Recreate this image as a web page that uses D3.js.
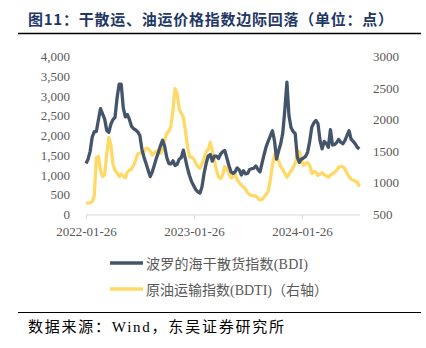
<!DOCTYPE html>
<html><head><meta charset="utf-8">
<script src="https://cdn.jsdelivr.net/npm/d3@7"></script>
<style>
body{margin:0;background:#fff;}
svg{display:block;}
</style></head>
<body><svg id="c" width="426" height="348"></svg>
<script>
// Weekly observations starting 2022-01-26
const startDate = "2022-01-26";
const bdi = [1290,1400,1600,1960,2100,2100,2400,2680,2550,2420,2130,2080,2280,2400,2460,2950,3300,3300,2700,2470,
2530,2400,2230,2170,2140,2090,2000,1650,1450,1290,1120,960,1080,1250,1430,1580,1750,1880,1720,1440,
1290,1280,1360,1240,1270,1400,1440,1630,1400,1170,980,830,730,630,575,540,700,1040,1290,1480,
1520,1350,1480,1480,1420,1530,1590,1620,1430,1240,1080,1040,1080,1180,1130,1000,1110,1030,1040,1140,
1160,1170,1230,1140,1080,1300,1520,1720,1860,1990,2120,1870,1400,1610,1790,2060,2650,3350,2500,2200,
2100,2050,1460,1320,1400,1430,1470,1580,1850,2210,2320,2380,2300,1870,1660,1850,1800,1700,2150,1760,
1770,1820,1900,1830,1790,1870,2000,2120,1910,1850,1790,1700,1660];
const bdti = [680,680,685,700,800,1400,1420,1200,1100,1130,1450,1720,1600,1300,1200,1160,1100,1140,1110,1080,
1170,1200,1220,1280,1360,1460,1470,1480,1500,1550,1540,1500,1440,1480,1500,1510,1470,1520,1680,1780,
1820,1900,2150,2490,2420,2170,2100,2040,1820,1580,1410,1410,1380,1310,1260,1230,1300,1390,1490,1530,
1640,1510,1350,1200,1090,1070,1130,1260,1220,1150,1080,1100,1140,1050,1000,965,935,900,845,815,
800,800,790,755,730,740,775,820,870,1050,1280,1450,1450,1340,1260,1210,1150,1090,1140,1190,
1240,1310,1450,1500,1360,1275,1310,1320,1280,1150,1180,1170,1120,1140,1160,1130,1110,1090,1120,1150,
1165,1200,1250,1260,1255,1220,1150,1100,1060,1040,1025,1010,940];
const xTickLabels = ["2022-01-26","2023-01-26","2024-01-26"];
const leftTicks = [0,500,1000,1500,2000,2500,3000,3500,4000];
const rightTicks = [500,1000,1500,2000,2500,3000];
const seriesNames = ["波罗的海干散货指数(BDI)","原油运输指数(BDTI)（右轴）"];
const colors = ["#44546a","#ffd966"];

const parse = d3.utcParse("%Y-%m-%d");
const t0 = parse(startDate);
const dates = bdi.map((_, i) => d3.utcDay.offset(t0, 7 * i));

const svg = d3.select("#c");
const serif = "'Liberation Serif','Times New Roman',serif";
const cjk = "'Liberation Serif','Noto Sans CJK SC',serif";

// Title
svg.append("text").attr("x", 28).attr("y", 25)
  .attr("font-family", "'Noto Sans CJK SC'").attr("font-weight", "bold")
  .attr("font-size", 15).attr("fill", "#1f3864")
  .attr("textLength", 365).attr("lengthAdjust", "spacing")
  .text("图11：干散运、油运价格指数边际回落（单位：点）");
svg.append("line").attr("x1", 18).attr("x2", 421).attr("y1", 33.5).attr("y2", 33.5)
  .attr("stroke", "#000").attr("stroke-width", 1.5);

const xs = d3.scaleUtc().domain([parse("2022-01-26"), parse("2024-01-26")]).range([86, 302]);
const yL = d3.scaleLinear().domain([0, 4000]).range([214.5, 56.5]);
const yR = d3.scaleLinear().domain([500, 3000]).range([214.5, 56.5]);

// X axis
const xEnd = 360;
svg.append("line").attr("x1", 86).attr("x2", xEnd).attr("y1", 215).attr("y2", 215)
  .attr("stroke", "#d9d9d9").attr("stroke-width", 1);
xTickLabels.forEach(s => {
  const px = Math.round(xs(parse(s))) + 0.5;
  svg.append("line").attr("x1", px).attr("x2", px).attr("y1", 215).attr("y2", 219)
    .attr("stroke", "#d9d9d9");
  svg.append("text").attr("x", px).attr("y", 236).attr("text-anchor", "middle")
    .attr("font-family", serif).attr("font-size", 13).attr("fill", "#595959").text(s);
});

// Left axis labels
leftTicks.forEach(v => {
  svg.append("text").attr("x", 70).attr("y", yL(v) + 4.5).attr("text-anchor", "end")
    .attr("font-family", serif).attr("font-size", 13).attr("fill", "#595959")
    .text(d3.format(",")(v));
});
// Right axis labels
rightTicks.forEach(v => {
  svg.append("text").attr("x", 373).attr("y", yR(v) + 4.5).attr("text-anchor", "start")
    .attr("font-family", serif).attr("font-size", 13).attr("fill", "#595959")
    .text(v);
});

// Lines
const lineL = d3.line().x((d, i) => xs(dates[i])).y(d => yL(d));
const lineR = d3.line().x((d, i) => xs(dates[i])).y(d => yR(d));
svg.append("path").attr("d", lineR(bdti)).attr("fill", "none")
  .attr("stroke", colors[1]).attr("stroke-width", 3.3).attr("stroke-linejoin", "round");
svg.append("path").attr("d", lineL(bdi)).attr("fill", "none")
  .attr("stroke", colors[0]).attr("stroke-width", 3.3).attr("stroke-linejoin", "round");

// Legend
const legendLen = [162, 182];
seriesNames.forEach((n, i) => {
  const ly = 263 + i * 26;
  svg.append("line").attr("x1", 110).attr("x2", 143).attr("y1", ly).attr("y2", ly)
    .attr("stroke", colors[i]).attr("stroke-width", 3.5);
  svg.append("text").attr("x", 146).attr("y", ly + 5.5).attr("font-family", cjk)
    .attr("font-size", 14).attr("fill", "#595959")
    .attr("textLength", legendLen[i]).attr("lengthAdjust", "spacing").text(n);
});

// Bottom rule + source
svg.append("line").attr("x1", 18).attr("x2", 421).attr("y1", 312.5).attr("y2", 312.5)
  .attr("stroke", "#000").attr("stroke-width", 1.2);
svg.append("text").attr("x", 28).attr("y", 332).attr("font-family", cjk)
  .attr("font-size", 15).attr("fill", "#000")
  .attr("textLength", 256).attr("lengthAdjust", "spacing")
  .text("数据来源：Wind，东吴证券研究所");
</script></body></html>
